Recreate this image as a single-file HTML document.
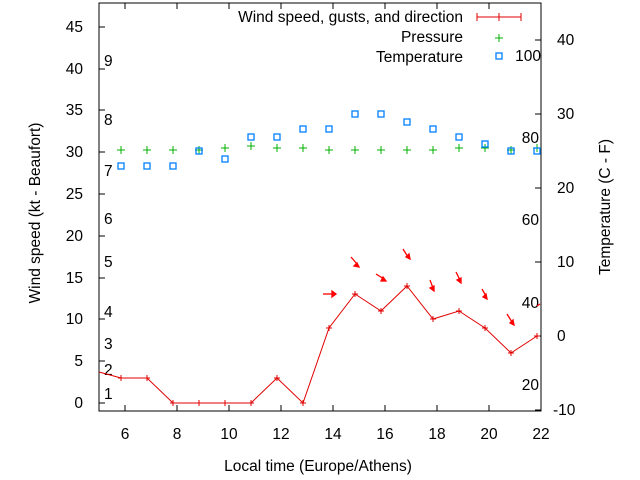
<!DOCTYPE html>
<html><head><style>body{margin:0;background:#fff}svg{display:block}text{font-family:"Liberation Sans",sans-serif;font-size:15.5px;fill:#000}</style></head><body>
<svg width="640" height="480" xmlns="http://www.w3.org/2000/svg">
<rect x="99" y="3" width="442" height="408" fill="none" stroke="#000" stroke-width="1"/>
<g stroke="#000">
<path d="M99,403h6M99,361h6M99,319h6M99,278h6M99,236h6M99,194h6M99,152h6M99,110h6M99,69h6M99,27h6"/>
<path d="M541,40h-6M541,114h-6M541,188h-6M541,262h-6M541,336h-6M541,410h-6"/>
<path d="M125,411v-6M177,411v-6M229,411v-6M281,411v-6M333,411v-6M385,411v-6M437,411v-6M489,411v-6M125,3v6M177,3v6M229,3v6M281,3v6M333,3v6M385,3v6M437,3v6M489,3v6"/>
</g>
<g text-anchor="end">
<text x="83" y="408">0</text><text x="83" y="366">5</text><text x="83" y="324">10</text><text x="83" y="283">15</text><text x="83" y="241">20</text><text x="83" y="199">25</text><text x="83" y="157">30</text><text x="83" y="115">35</text><text x="83" y="74">40</text><text x="83" y="32">45</text>
</g>
<g>
<text x="557" y="45">40</text><text x="557" y="119">30</text><text x="557" y="193">20</text><text x="557" y="267">10</text><text x="557" y="341">0</text><text x="553" y="415">-10</text>
</g>
<g text-anchor="middle">
<text x="125" y="439">6</text><text x="177" y="439">8</text><text x="229" y="439">10</text><text x="281" y="439">12</text><text x="333" y="439">14</text><text x="385" y="439">16</text><text x="437" y="439">18</text><text x="489" y="439">20</text><text x="541" y="439">22</text>
<text x="318" y="471">Local time (Europe/Athens)</text>
</g>
<text transform="translate(40,213) rotate(-90)" text-anchor="middle">Wind speed (kt - Beaufort)</text>
<text transform="translate(610,207) rotate(-90)" text-anchor="middle">Temperature (C - F)</text>
<g>
<text x="104" y="399">1</text><text x="104" y="375">2</text><text x="104" y="349">3</text><text x="104" y="317">4</text><text x="104" y="267">5</text><text x="104" y="224">6</text><text x="104" y="176">7</text><text x="104" y="125">8</text><text x="104" y="66">9</text>
</g>
<g text-anchor="end">
<text x="541" y="61">100</text><text x="539" y="143">80</text><text x="539" y="225">60</text><text x="539" y="308">40</text><text x="539" y="390">20</text>
</g>
<g text-anchor="end">
<text x="463" y="22">Wind speed, gusts, and direction</text>
<text x="463" y="42">Pressure</text>
<text x="463" y="62">Temperature</text>
</g>
<path d="M477,17h44M477,13v8M499,13v8M521,13v8" stroke="#e00000" fill="none"/>
<path d="M495,38h8M499,34v8" stroke="#00b000"/>
<rect x="496" y="53" width="6" height="6" fill="none" stroke="#0080ff" stroke-width="1.3"/>
<polyline fill="none" stroke="#e00000" points="99,372 121,378 147,378 173,403 199,403 225,403 251,403 277,378 303,403 329,328 355,294 381,311 407,286 433,319 459,311 485,328 511,353 537,336"/>
<g stroke="#e00000" fill="none">
<path d="M118,378h6M121,375v6M144,378h6M147,375v6M170,403h6M173,400v6M196,403h6M199,400v6M222,403h6M225,400v6M248,403h6M251,400v6M274,378h6M277,375v6M300,403h6M303,400v6M326,328h6M329,325v6M352,294h6M355,291v6M378,311h6M381,308v6M404,286h6M407,283v6M430,319h6M433,316v6M456,311h6M459,308v6M482,328h6M485,325v6M508,353h6M511,350v6M534,336h6M537,333v6"/>
</g>
<g stroke="#ff0000" stroke-width="1.3" fill="#ff0000">
<path d="M323,294h10"/><path d="M336,294l-4,-3v6z"/>
<path d="M351,257l6,7"/><path d="M359,267l-5,-1l3,-3z"/>
<path d="M376,274l8,5"/><path d="M386,281l-5,0l2,-4z"/>
<path d="M403,249l5,8"/><path d="M410,259l-4,-2l3,-3z"/>
<path d="M430,280l3,8"/><path d="M434,291l-4,-3l4,-2z"/>
<path d="M456,272l4,8"/><path d="M461,283l-4,-3l4,-2z"/>
<path d="M482,289l4,7"/><path d="M487,299l-4,-2l3,-3z"/>
<path d="M507,314l5,8"/><path d="M514,325l-4,-2l3,-3z"/>
<path d="M537,306l3,-2"/>
</g>
<g stroke="#00b000">
<path d="M117,150h8M121,146v8M143,150h8M147,146v8M169,150h8M173,146v8M195,150h8M199,146v8M221,148h8M225,144v8M247,146h8M251,142v8M273,148h8M277,144v8M299,148h8M303,144v8M325,150h8M329,146v8M351,150h8M355,146v8M377,150h8M381,146v8M403,150h8M407,146v8M429,150h8M433,146v8M455,148h8M459,144v8M481,148h8M485,144v8M507,150h8M511,146v8M533,148h8M537,144v8"/>
</g>
<g fill="none" stroke="#0080ff" stroke-width="1.3">
<rect x="118" y="163" width="6" height="6"/><rect x="144" y="163" width="6" height="6"/><rect x="170" y="163" width="6" height="6"/><rect x="196" y="148" width="6" height="6"/><rect x="222" y="156" width="6" height="6"/><rect x="248" y="134" width="6" height="6"/><rect x="274" y="134" width="6" height="6"/><rect x="300" y="126" width="6" height="6"/><rect x="326" y="126" width="6" height="6"/><rect x="352" y="111" width="6" height="6"/><rect x="378" y="111" width="6" height="6"/><rect x="404" y="119" width="6" height="6"/><rect x="430" y="126" width="6" height="6"/><rect x="456" y="134" width="6" height="6"/><rect x="482" y="141" width="6" height="6"/><rect x="508" y="148" width="6" height="6"/><rect x="534" y="148" width="6" height="6"/>
</g>
</svg>
</body></html>
